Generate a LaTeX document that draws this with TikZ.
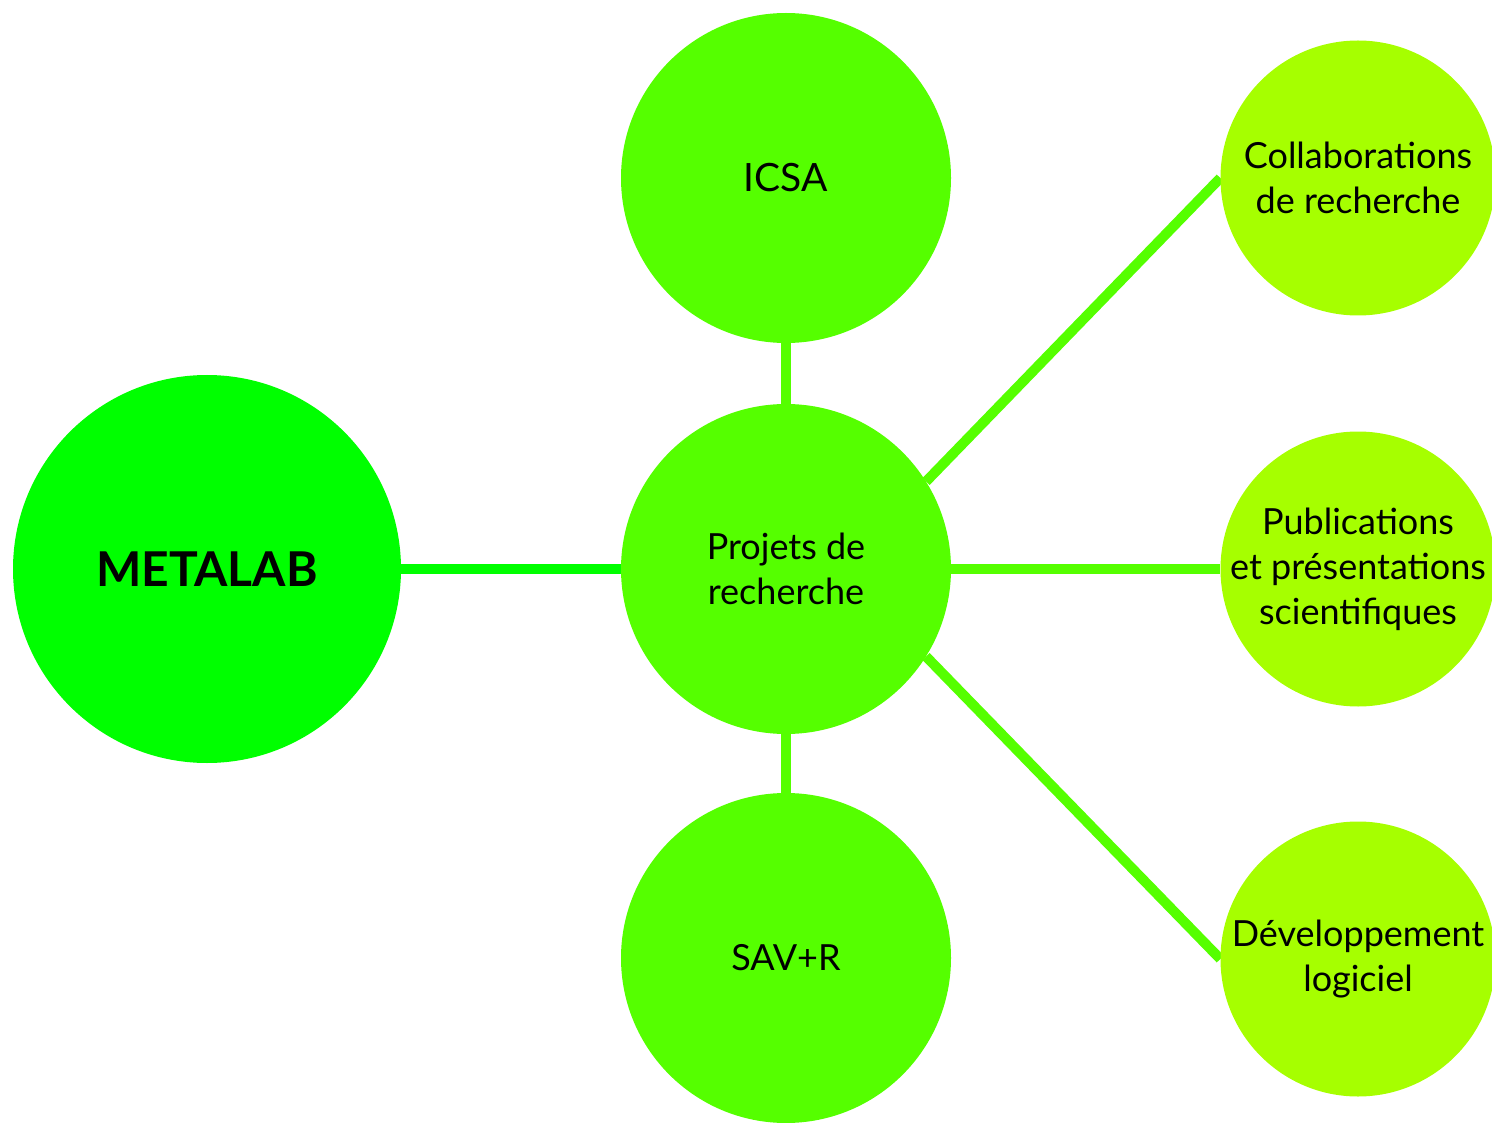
\documentclass[tikz,border=0pt]{standalone}
\usepackage{fontspec}
\setmainfont{Lato}
\usetikzlibrary{backgrounds}

\definecolor{metagreen}{HTML}{00FF00}
\definecolor{projgreen}{HTML}{55FF00}
\definecolor{leafgreen}{HTML}{A6FF00}

\begin{document}
\begin{tikzpicture}[x=1pt,y=-1pt,
		bubble/.style={circle,inner sep=-40pt,align=center,font=\fontsize{36}{45}\selectfont},
		hub/.style={bubble,fill=projgreen,minimum size=330pt},
		leaf/.style={bubble,fill=leafgreen,minimum size=275pt},
		link/.style={line width=10pt,draw=projgreen}]
				\useasboundingbox (0,0) rectangle (1492,1123);
				
				\node[bubble,fill=metagreen,minimum size=388pt,font=\fontsize{48}{54}\selectfont\bfseries] (metalab) at (207,569) {METALAB};
				\node[hub] (projets) at (786,569) {Projets de\\recherche};
				\node[hub,font=\fontsize{39}{45}\selectfont] (icsa) at (786,178) {ICSA};
				\node[hub] (savr) at (786,958) {SAV+R};
				
				\node[leaf] (collab) at (1358,178) {Collaborations\\de recherche};
				\node[leaf] (publi) at (1358,569) {Publications\\et présentations\\scientifiques};
				\node[leaf] (dev) at (1358,959) {Développement\\logiciel};
				
				% liens
				\begin{scope}[on background layer]
				\draw[link,draw=metagreen] (metalab) -- (projets);
				\draw[link] (icsa) -- (projets);
				\draw[link] (projets) -- (savr);
				\draw[link] (projets.32) -- (collab.west);
				\draw[link] (projets) -- (publi);
				\draw[link] (projets.-32) -- (dev.west);
				\end{scope}
			\end{tikzpicture}
\end{document}
